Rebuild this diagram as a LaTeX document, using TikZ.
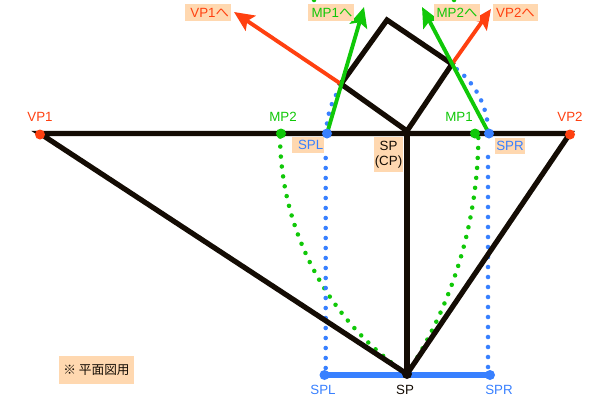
\documentclass[tikz,border=0pt]{standalone}
\usepackage{fontspec}
\setmainfont{Liberation Sans}
\newfontfamily\cjkf{Noto Sans CJK JP}
\usetikzlibrary{arrows.meta}
\definecolor{inkb}{HTML}{140C04}
\definecolor{redo}{HTML}{FF4010}
\definecolor{grn}{HTML}{10C808}
\definecolor{blu}{HTML}{3880FF}
\definecolor{tagc}{HTML}{FFD8B0}
\tikzset{
 x=0.75pt,y=-0.75pt,
 heavy/.style={draw=inkb,line width=3.9pt},
 redarrow/.style={draw=redo,line width=2.9pt,-{Stealth[length=15pt,width=13.5pt,inset=3pt]}},
 grnarrow/.style={draw=grn,line width=2.9pt,-{Stealth[length=15pt,width=13.5pt,inset=3pt]}},
 dotsg/.style={draw=grn,line width=3.4pt,line cap=round,dash pattern=on 0pt off 7.5pt},
 dotsb/.style={draw=blu,line width=3.4pt,line cap=round,dash pattern=on 0pt off 7.5pt},
 lbl/.style={font=\fontsize{10pt}{11.3pt}\selectfont,inner sep=0pt},
 tag/.style={lbl,fill=tagc,inner sep=0pt},
}
\begin{document}
\begin{tikzpicture}
\useasboundingbox (0,0) rectangle (600,400);
\coordinate (VPa) at (40,133.5);
\coordinate (VPb) at (570,133.5);
\coordinate (CP) at (407,133.5);
\coordinate (CPq) at (407,131);
\coordinate (SPb) at (407,374);
\coordinate (SPLt) at (327,133.5);
\coordinate (SPRt) at (489,133.5);
\coordinate (MPb) at (281,133.5);
\coordinate (MPa) at (475,133.5);
\coordinate (SPLb) at (324.5,375);
\coordinate (SPRb) at (490,375);
\coordinate (SPLda) at (325.7,368);
\coordinate (SPLdb) at (325.7,148);
\coordinate (SPRda) at (488,367);
\coordinate (SPRdb) at (488,147);
\coordinate (Ca) at (341,84);
\coordinate (Cb) at (387,20);
\coordinate (Cc) at (452,64);
\coordinate (Tr) at (234,12);
\coordinate (Tg) at (364,7);
\coordinate (Tgg) at (422,7);
\coordinate (Trr) at (491,9);
% dotted construction arcs
\draw[dotsg] (SPb) arc[start angle=124.2,end angle=180,radius=290];
\draw[dotsg] (SPb) arc[start angle=33.2,end angle=0,radius=437];
\draw[dotsb] (SPLda) -- (SPLdb);
\draw[dotsb] (SPRda) -- (SPRdb);
\draw[dotsb] (SPLt) ++(0,-10) arc[start angle=187,end angle=216,radius=82];
\draw[dotsb] (SPRt) ++(-2,-14) arc[start angle=-10,end angle=-56,radius=82];
\fill[grn] (314,0) circle (1.7pt);
\fill[grn] (454,0) circle (1.7pt);
% blue ground line
\draw[draw=blu,line width=3.9pt] (SPLb) -- (SPRb);
% black structure
\draw[heavy] (VPa) -- (VPb) -- (SPb) -- cycle;
\draw[heavy] (CP) -- (SPb);
\draw[heavy,line join=miter] (CPq) -- (Ca) -- (Cb) -- (Cc) -- cycle;
% arrows
\draw[redarrow] (Ca) -- (Tr);
\draw[redarrow] (Cc) -- (Trr);
\draw[grnarrow] (SPLt) -- (Tg);
\draw[grnarrow] (SPRt) -- (Tgg);
% points
\fill[redo] (40,134.5) circle (3.75pt);
\fill[redo] (570,134.5) circle (3.75pt);
\fill[grn] (MPb) circle (3.75pt);
\fill[grn] (MPa) circle (3.75pt);
\fill[blu] (SPLt) circle (3.75pt);
\fill[blu] (SPRt) circle (3.75pt);
\fill[blu] (SPLb) circle (3.75pt);
\fill[blu] (SPRb) circle (3.75pt);
\fill[inkb] (CP) circle (3pt);
\fill[inkb] (SPb) circle (3.75pt);
% labels
\node[lbl,text=redo] (tVPa) at (40,117) {VP1};
\node[lbl,text=redo] (tVPb) at (570,117) {VP2};
\node[lbl,text=grn] (tMPb) at (283,117) {MP2};
\node[lbl,text=grn] (tMPa) at (459,117) {MP1};
\node[tag,text=blu,minimum width=24pt,minimum height=12pt] (tSPL) at (308,145) {\hspace*{4pt}SPL};
\node[tag,text=blu,minimum width=23pt,minimum height=12pt] (tSPR) at (510,145.5) {SPR};
\node[tag,text=inkb,align=center,minimum width=22pt,minimum height=26pt] (tCP) at (388.5,154.5) {SP\\(CP)};
\node[lbl,text=blu] (bSPL) at (323,389.5) {SPL};
\node[lbl,text=blu] (bSPR) at (499,389.5) {SPR};
\node[lbl,text=inkb] (bSP) at (405,390) {SP};
\node[tag,text=redo,minimum width=34.5pt,minimum height=12.75pt] (uVPa) at (208,12.5) {\hspace*{2.5pt}VP1{\cjkf へ}};
\node[tag,text=grn,minimum width=34.5pt,minimum height=12.75pt] (uMPa) at (331,12.5) {\hspace*{1.5pt}MP1{\cjkf へ}};
\node[tag,text=grn,minimum width=34.5pt,minimum height=12.75pt] (uMPb) at (457,12.5) {MP2{\cjkf へ}};
\node[tag,text=redo,minimum width=34pt,minimum height=12.75pt] (uVPb) at (515.5,12.5) {VP2{\cjkf へ}};
\node[tag,text=inkb,minimum width=56pt,minimum height=21pt] (note) at (96.5,370) {\fontsize{9.5pt}{11pt}\selectfont\cjkf ※ 平面図用};
\end{tikzpicture}
\end{document}
